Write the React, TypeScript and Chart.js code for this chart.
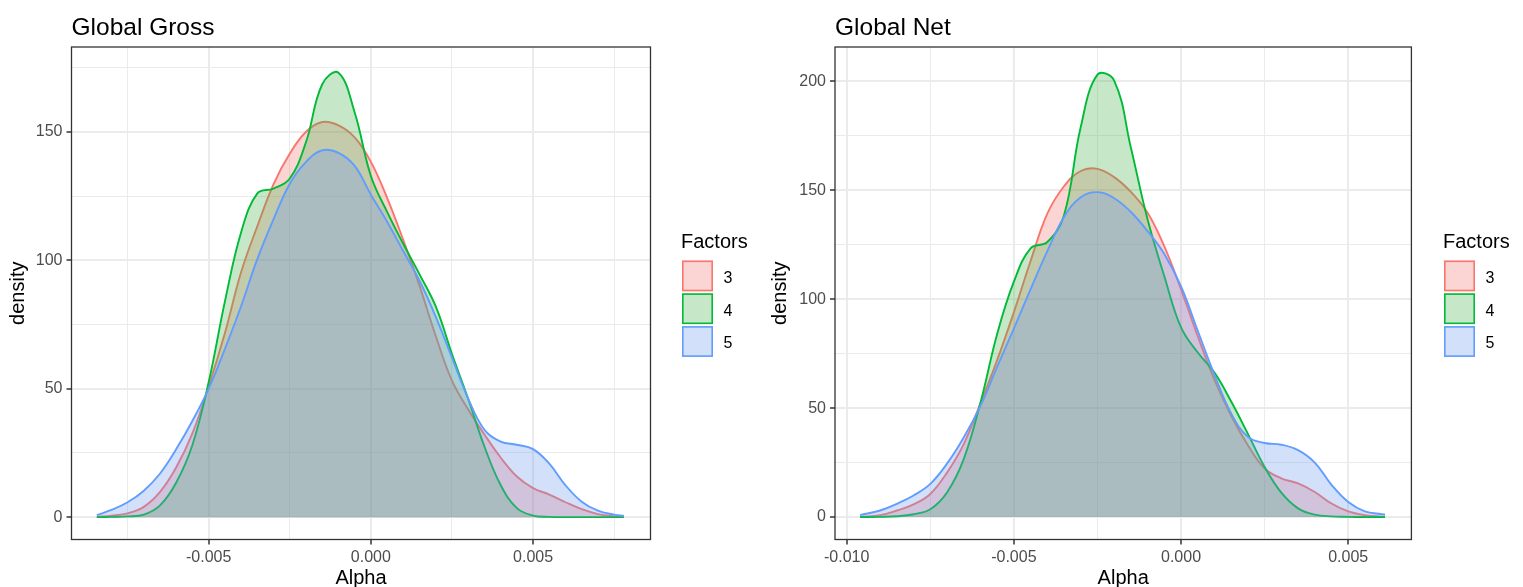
import React, { useEffect, useRef } from "react";
import { Chart, registerables } from "chart.js";

Chart.register(...registerables);

const FONT = '"Liberation Sans", Arial, Helvetica, sans-serif';

const FACTORS = ["3", "4", "5"];
const LINE_COLORS = ["#F8766D", "#00BA38", "#619CFF"];
const FILL_COLORS = ["rgba(242,116,108,0.3)", "rgba(65,178,72,0.3)", "rgba(108,152,238,0.3)"];

// ---------- Global Gross ----------
const grossAlpha = [
  -0.00845, -0.008, -0.0075, -0.007, -0.0065, -0.006, -0.0055, -0.005, -0.0045, -0.004,
  -0.0035, -0.003, -0.0025, -0.002, -0.0015, -0.001, -0.0005, 0, 0.0005, 0.001,
  0.0015, 0.002, 0.0025, 0.003, 0.0035, 0.004, 0.0045, 0.005, 0.0055, 0.006,
  0.0065, 0.007, 0.0075, 0.0078,
];
const grossF3 = [
  0.1, 0.6, 1.5, 4.0, 9.8, 19.4, 32.7, 50.9, 71.7, 95.4,
  113.3, 129.6, 141.5, 150.0, 153.8, 152.5, 147.8, 138.3, 124.3, 107.8,
  90.0, 70.5, 53.1, 41.9, 32.2, 23.2, 15.8, 11.3, 8.8, 5.8,
  3.1, 1.2, 0.3, 0.1,
];
const grossF4 = [
  0.0, 0.1, 0.3, 1.0, 4.6, 13.5, 28.2, 52.6, 84.0, 110.9,
  126.0, 127.9, 131.8, 146.0, 168.5, 173.0, 157.5, 132.8, 118.8, 106.3,
  94.5, 82.0, 63.5, 46.0, 27.5, 12.5, 3.5, 0.6, 0.1, 0.0,
  0.0, 0.0, 0.0, 0.0,
];
const grossF5 = [
  0.8, 2.8, 5.8, 10.3, 17.0, 26.5, 37.5, 50.0, 65.5, 82.2,
  100.5, 116.0, 129.8, 138.3, 142.8, 141.8, 136.7, 125.5, 115.0, 103.5,
  92.0, 78.0, 62.1, 46.1, 34.0, 29.4, 28.2, 26.5, 20.8, 12.4,
  6.0, 2.5, 1.0, 0.5,
];
const grossXTicks = [-0.0075, -0.005, -0.0025, 0, 0.0025, 0.005, 0.0075];
const grossXLabels = [-0.005, 0, 0.005];
const grossYTicks = [0, 25, 50, 75, 100, 125, 150, 175];
const grossYLabels = [0, 50, 100, 150];
const grossXRange = [-0.00923, 0.00862];
const grossYRange = [-8.7, 183.0];

// ---------- Global Net ----------
const netAlpha = [
  -0.0096, -0.009, -0.0085, -0.008, -0.0075, -0.007, -0.0065, -0.006, -0.0055, -0.005,
  -0.0045, -0.004, -0.0035, -0.003, -0.0025, -0.002, -0.0015, -0.001, -0.0005, 0,
  0.0005, 0.001, 0.0015, 0.002, 0.0025, 0.003, 0.0035, 0.004, 0.0045, 0.005,
  0.0055, 0.006, 0.0061,
];
const netF3 = [
  0.1, 0.9, 3.0, 5.8, 10.6, 20.4, 33.5, 52.2, 72.0, 94.0,
  117.5, 139.2, 151.8, 158.8, 159.8, 156.0, 149.2, 139.6, 124.2, 104.5,
  83.0, 63.0, 46.5, 33.0, 22.3, 17.8, 15.4, 11.5, 6.2, 2.6,
  0.9, 0.2, 0.2,
];
const netF4 = [
  0.0, 0.1, 0.4, 1.3, 3.6, 11.3, 26.6, 52.4, 84.0, 108.0,
  123.3, 126.2, 138.5, 179.0, 203.0, 200.3, 169.5, 136.5, 110.5, 87.0,
  75.5, 66.3, 53.0, 38.2, 23.0, 11.2, 4.0, 1.1, 0.3, 0.1,
  0.0, 0.0, 0.0,
];
const netF5 = [
  0.9, 3.0, 6.1, 9.9, 15.2, 24.5, 36.5, 51.0, 68.9, 86.5,
  104.6, 122.0, 137.7, 146.8, 149.1, 146.3, 140.0, 131.2, 120.7, 105.8,
  85.5, 65.3, 47.5, 36.8, 34.0, 33.2, 30.7, 25.0, 14.8, 6.9,
  2.6, 1.3, 1.2,
];
const netXTicks = [-0.01, -0.0075, -0.005, -0.0025, 0, 0.0025, 0.005];
const netXLabels = [-0.01, -0.005, 0, 0.005];
const netYTicks = [0, 25, 50, 75, 100, 125, 150, 175, 200];
const netYLabels = [0, 50, 100, 150, 200];
const netXRange = [-0.01035, 0.00689];
const netYRange = [-10.3, 215.7];

const HEIGHT = 587;

const isIn = (v: number, arr: number[]) => arr.some((m) => Math.abs(m - v) < 1e-9);

const ggPlugin = {
  id: "gg",
  afterDatasetsDraw(chart: any) {
    const { ctx, chartArea } = chart;
    ctx.save();
    ctx.strokeStyle = "#333333";
    ctx.lineWidth = 1.3;
    ctx.strokeRect(chartArea.left, chartArea.top, chartArea.right - chartArea.left, chartArea.bottom - chartArea.top);
    ctx.restore();
  },
  afterDraw(chart: any, _args: any, opts: any) {
    const { ctx, chartArea } = chart;
    ctx.save();
    ctx.fillStyle = "#000000";
    ctx.textBaseline = "alphabetic";
    ctx.textAlign = "left";
    ctx.font = `24.5px ${FONT}`;
    ctx.fillText(opts.title, chartArea.left, 34.5);

    // legend
    const lx = opts.legendX;
    ctx.font = `20px ${FONT}`;
    ctx.fillText("Factors", lx - 1, 248);
    chart.data.datasets.forEach((ds: any, i: number) => {
      const y0 = 260.5 + i * 32.8;
      ctx.fillStyle = "#ffffff";
      ctx.fillRect(lx, y0, 31, 30.8);
      ctx.fillStyle = ds.backgroundColor;
      ctx.fillRect(lx, y0, 31, 30.8);
      ctx.strokeStyle = ds.borderColor;
      ctx.lineWidth = 1.6;
      ctx.strokeRect(lx + 0.8, y0 + 0.8, 29.4, 29.2);
      ctx.fillStyle = "#000000";
      ctx.font = `16px ${FONT}`;
      ctx.fillText(ds.label, lx + 41.5, y0 + 22.3);
    });
    ctx.restore();
  },
};

type PanelProps = {
  title: string;
  xs: number[];
  series: number[][];
  xTicks: number[];
  xLabels: number[];
  yTicks: number[];
  yLabels: number[];
  xRange: number[];
  yRange: number[];
  width: number;
  areaLeft: number;
  areaRight: number;
};

function Panel(p: PanelProps) {
  const ref = useRef<HTMLCanvasElement | null>(null);
  useEffect(() => {
    if (!ref.current) return;
    const areaTop = 47;
    const areaBottom = 539.5;
    const datasets = p.series.map((ys, i) => ({
      label: FACTORS[i],
      data: p.xs.map((x, j) => ({ x, y: ys[j] })),
      borderColor: LINE_COLORS[i],
      backgroundColor: FILL_COLORS[i],
      borderWidth: 1.9,
      fill: "origin",
      pointRadius: 0,
      tension: 0.4,
      order: 3 - i,
    }));
    const chart = new Chart(ref.current, {
      type: "line",
      data: { datasets } as any,
      plugins: [ggPlugin as any],
      options: {
        animation: false,
        responsive: false,
        devicePixelRatio: 1,
        events: [],
        layout: { padding: { left: 0, top: areaTop, right: p.width - p.areaRight, bottom: 0 } },
        plugins: {
          legend: { display: false },
          tooltip: { enabled: false },
          gg: { title: p.title, legendX: 682 },
        } as any,
        scales: {
          x: {
            type: "linear",
            min: p.xRange[0],
            max: p.xRange[1],
            afterBuildTicks: (s: any) => {
              s.ticks = p.xTicks.map((v) => ({ value: v }));
            },
            afterFit: (s: any) => {
              s.height = HEIGHT - areaBottom;
            },
            border: { display: false },
            grid: {
              color: "#EBEBEB",
              lineWidth: (c: any) => (isIn(c.tick.value, p.xLabels) ? 2 : 1),
              tickLength: 5,
              tickWidth: 1.5,
              tickColor: (c: any) => (isIn(c.tick.value, p.xLabels) ? "#333333" : "rgba(0,0,0,0)"),
            },
            ticks: {
              autoSkip: false,
              maxRotation: 0,
              minRotation: 0,
              padding: 3,
              color: "#4D4D4D",
              font: { family: FONT, size: 16 },
              callback: (v: any) => (isIn(Number(v), p.xLabels) ? Number(v).toFixed(3) : ""),
            },
            title: {
              display: true,
              text: "Alpha",
              color: "#000000",
              font: { family: FONT, size: 20 },
              padding: { top: 0, bottom: -3 },
            },
          },
          y: {
            type: "linear",
            min: p.yRange[0],
            max: p.yRange[1],
            afterBuildTicks: (s: any) => {
              s.ticks = p.yTicks.map((v) => ({ value: v }));
            },
            afterFit: (s: any) => {
              s.width = p.areaLeft;
            },
            border: { display: false },
            grid: {
              color: "#EBEBEB",
              lineWidth: (c: any) => (isIn(c.tick.value, p.yLabels) ? 2 : 1),
              tickLength: 5,
              tickWidth: 1.5,
              tickColor: (c: any) => (isIn(c.tick.value, p.yLabels) ? "#333333" : "rgba(0,0,0,0)"),
            },
            ticks: {
              autoSkip: false,
              padding: 4,
              color: "#4D4D4D",
              font: { family: FONT, size: 16 },
              callback: (v: any) => (isIn(Number(v), p.yLabels) ? String(v) : ""),
            },
            title: {
              display: true,
              text: "density",
              color: "#000000",
              font: { family: FONT, size: 20 },
              padding: { top: 6.5, bottom: 0 },
            },
          },
        },
      } as any,
    });
    return () => chart.destroy();
  }, []);
  return <canvas ref={ref} width={p.width} height={HEIGHT} style={{ display: "block", width: p.width, height: HEIGHT }} />;
}

export default function App() {
  return (
    <div
      style={{
        position: "absolute",
        left: 0,
        top: 0,
        width: 1523,
        height: HEIGHT,
        overflow: "hidden",
        background: "#ffffff",
        display: "flex",
      }}
    >
      <Panel
        title="Global Gross"
        xs={grossAlpha}
        series={[grossF3, grossF4, grossF5]}
        xTicks={grossXTicks}
        xLabels={grossXLabels}
        yTicks={grossYTicks}
        yLabels={grossYLabels}
        xRange={grossXRange}
        yRange={grossYRange}
        width={762}
        areaLeft={71.5}
        areaRight={650.5}
      />
      <Panel
        title="Global Net"
        xs={netAlpha}
        series={[netF3, netF4, netF5]}
        xTicks={netXTicks}
        xLabels={netXLabels}
        yTicks={netYTicks}
        yLabels={netYLabels}
        xRange={netXRange}
        yRange={netYRange}
        width={761}
        areaLeft={73}
        areaRight={649.4}
      />
    </div>
  );
}
